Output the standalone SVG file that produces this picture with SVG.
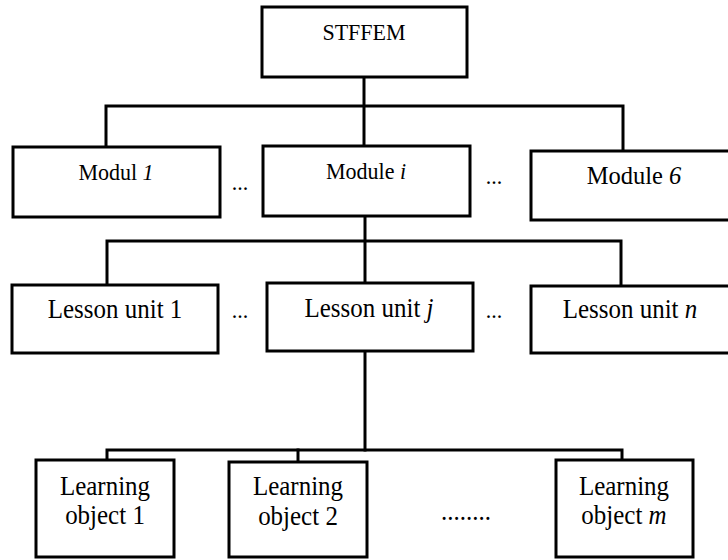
<svg xmlns="http://www.w3.org/2000/svg" width="728" height="560" viewBox="0 0 728 560">
<style>
  .box { fill: #ffffff; stroke: #000000; stroke-width: 3; }
  .ln { fill: none; stroke: #000000; stroke-width: 3; stroke-linecap: square; }
  text { font-family: "Liberation Serif", "Times New Roman", serif; fill: #000000; text-anchor: middle; }
  .s22 { font-size: 23.2px; }
  .s24 { font-size: 25.8px; }
  .s25 { font-size: 26.3px; }
  .it { font-style: italic; }
</style>
<rect width="728" height="560" fill="#ffffff"/>
<g id="connectors">
  <path class="ln" d="M364,77 V146"/>
  <path class="ln" d="M106,147 V106 H623 V151"/>
  <path class="ln" d="M365,216 V283"/>
  <path class="ln" d="M107,285 V241 H621 V286"/>
  <path class="ln" d="M365,351 V450"/>
  <path class="ln" d="M107,460 V450 H622 V460"/>
  <path class="ln" d="M298,450 V462"/>
</g>
<g id="stffem">
  <rect class="box" x="262" y="7" width="205" height="70"/>
  <text class="s22" transform="translate(364 40) scale(0.95 1)">STFFEM</text>
</g>
<g id="module1">
  <rect class="box" x="13" y="147" width="207" height="70"/>
  <text class="s22" transform="translate(116 180) scale(0.95 1)">Modul <tspan class="it">1</tspan></text>
</g>
<g id="modulei">
  <rect class="box" x="263" y="146" width="207" height="70"/>
  <text class="s22" transform="translate(366 179) scale(0.95 1)">Module <tspan class="it">i</tspan></text>
</g>
<g id="module6">
  <rect class="box" x="531" y="151" width="200" height="69"/>
  <text class="s24" transform="translate(634 184) scale(0.95 1)">Module <tspan class="it">6</tspan></text>
</g>
<g id="dots-modules">
  <text class="s22" transform="translate(240 190) scale(0.95 1)">...</text>
  <text class="s22" transform="translate(494 184) scale(0.95 1)">...</text>
</g>
<g id="lesson1">
  <rect class="box" x="12" y="285" width="206" height="68"/>
  <text class="s25" transform="translate(115 318) scale(0.95 1)">Lesson unit 1</text>
</g>
<g id="lessonj">
  <rect class="box" x="267" y="283" width="206" height="68"/>
  <text class="s25" transform="translate(369 317) scale(0.95 1)">Lesson unit <tspan class="it">j</tspan></text>
</g>
<g id="lessonn">
  <rect class="box" x="531" y="286" width="200" height="67"/>
  <text class="s25" transform="translate(630 318) scale(0.95 1)">Lesson unit <tspan class="it">n</tspan></text>
</g>
<g id="dots-lessons">
  <text class="s22" transform="translate(240 318) scale(0.95 1)">...</text>
  <text class="s22" transform="translate(494 318) scale(0.95 1)">...</text>
</g>
<g id="lo1">
  <rect class="box" x="36" y="460" width="138" height="97"/>
  <text class="s25" transform="translate(105 495) scale(0.95 1)">Learning</text>
  <text class="s25" transform="translate(105 524) scale(0.95 1)">object 1</text>
</g>
<g id="lo2">
  <rect class="box" x="229" y="462" width="138" height="95"/>
  <text class="s25" transform="translate(298 495) scale(0.95 1)">Learning</text>
  <text class="s25" transform="translate(298 525) scale(0.95 1)">object 2</text>
</g>
<g id="lom">
  <rect class="box" x="556" y="460" width="137" height="97"/>
  <text class="s25" transform="translate(624 495) scale(0.95 1)">Learning</text>
  <text class="s25" transform="translate(624 524) scale(0.95 1)">object <tspan class="it">m</tspan></text>
</g>
<g id="dots-objects">
  <text class="s25" transform="translate(466 520) scale(0.95 1)">........</text>
</g>
</svg>
